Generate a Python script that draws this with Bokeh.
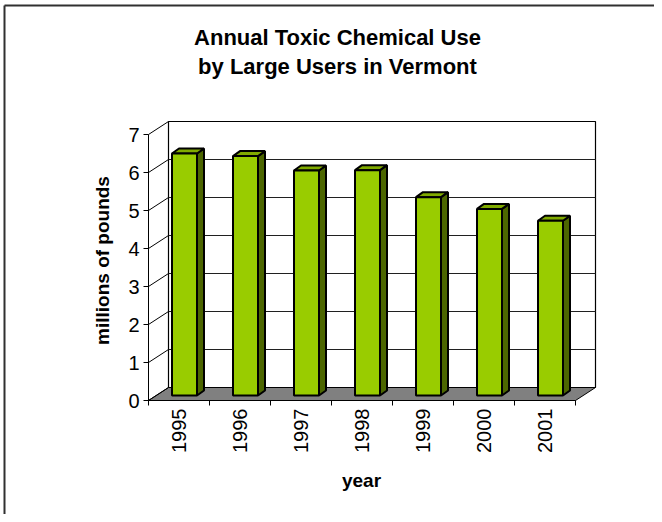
import math
from bokeh.plotting import figure
from bokeh.models import Range1d, FixedTicker
from bokeh.core.properties import value
from bokeh.embed import file_html
from bokeh.resources import INLINE

# ---- data ----
years = ["1995", "1996", "1997", "1998", "1999", "2000", "2001"]
values = [6.37, 6.30, 5.92, 5.93, 5.22, 4.91, 4.60]
y_ticks = [0, 1, 2, 3, 4, 5, 6, 7]
title_lines = ["Annual Toxic Chemical Use", "by Large Users in Vermont"]
x_title = "year"
y_title = "millions of pounds"

# ---- geometry (style) ----
W, H = 654, 514          # canvas
X0, Y0 = 148, 400        # pixel position of the plot origin
PX_X = 61.0              # pixels per category
PX_Y = 38.0              # pixels per unit
WALL_DX = 20 / PX_X
WALL_DY = 13 / PX_Y
BAR_OFF = 23.5 / PX_X
BAR_W = 25 / PX_X
BAR_BASE = 5 / PX_Y
BAR_DX = 7 / PX_X
BAR_DY = 5 / PX_Y
n = len(years)
ymax = y_ticks[-1]
FONT = "Liberation Sans"


def dx(px):
    return (px - X0) / PX_X


def dy(py):
    return (Y0 - py) / PX_Y


p = figure(width=W, height=H, output_backend="svg", toolbar_location=None,
           x_range=Range1d(dx(0), dx(W)), y_range=Range1d(dy(H), dy(0)),
           min_border=0)
p.outline_line_color = None
p.xgrid.visible = False
p.ygrid.visible = False
p.background_fill_color = "white"
p.border_fill_color = "white"

# chart-area border (top and left edges)
p.segment(x0=[dx(4), dx(4)], y0=[dy(5), dy(5)], x1=[dx(W + 10), dx(4)], y1=[dy(5), dy(H + 10)],
          line_color="#303030", line_width=2)

# title
p.text(x=[dx(337)] * 2, y=[dy(37), dy(66)], text=title_lines,
       text_align="center", text_baseline="middle", text_font=value(FONT),
       text_font_style="bold", text_font_size="22px", text_color="black")

# floor
p.patch([0, n, n + WALL_DX, WALL_DX], [0, 0, WALL_DY, WALL_DY],
        fill_color="#808080", line_color="black", line_width=1)
# back wall
p.quad(left=[WALL_DX], right=[n + WALL_DX], bottom=[WALL_DY], top=[WALL_DY + ymax],
       fill_color="white", line_color="black", line_width=1.2)
# back wall gridlines
p.segment(x0=[WALL_DX] * (len(y_ticks) - 2), y0=[WALL_DY + v for v in y_ticks[1:-1]],
          x1=[n + WALL_DX] * (len(y_ticks) - 2), y1=[WALL_DY + v for v in y_ticks[1:-1]],
          line_color="#202020", line_width=1.2)
# side wall lines
p.segment(x0=[0] * len(y_ticks), y0=y_ticks,
          x1=[WALL_DX] * len(y_ticks), y1=[WALL_DY + v for v in y_ticks],
          line_color="black", line_width=1)

# bars
lefts = [i + BAR_OFF for i in range(n)]
rights = [l + BAR_W for l in lefts]
bottoms = [BAR_BASE] * n
tops = [BAR_BASE + v for v in values]
side_xs = [[r, r + BAR_DX, r + BAR_DX, r] for r in rights]
side_ys = [[b, b + BAR_DY, t + BAR_DY, t] for b, t in zip(bottoms, tops)]
top_xs = [[l, r, r + BAR_DX, l + BAR_DX] for l, r in zip(lefts, rights)]
top_ys = [[t, t, t + BAR_DY, t + BAR_DY] for t in tops]
p.patches(side_xs, side_ys, fill_color="#4C6600", line_color="black", line_width=2)
p.patches(top_xs, top_ys, fill_color="#80AA00", line_color="black", line_width=2)
p.quad(left=lefts, right=rights, bottom=bottoms, top=tops,
       fill_color="#99CC00", line_color="black", line_width=2)

# axis titles
p.text(x=[dx(102)], y=[dy(260)], text=[y_title], angle=math.pi / 2,
       text_align="center", text_baseline="middle", text_font=value(FONT),
       text_font_style="bold", text_font_size="19px", text_color="black")
p.text(x=[dx(361)], y=[dy(480)], text=[x_title],
       text_align="center", text_baseline="middle", text_font=value(FONT),
       text_font_style="bold", text_font_size="19px", text_color="black")

# y axis (front edge)
ya = p.yaxis[0]
ya.fixed_location = 0
ya.ticker = FixedTicker(ticks=y_ticks)
ya.bounds = (0, ymax)
ya.major_tick_out = 5
ya.major_tick_in = 0
ya.minor_tick_out = 0
ya.minor_tick_in = 0
ya.axis_line_color = "black"
ya.major_tick_line_color = "black"
ya.major_label_text_font = FONT
ya.major_label_text_font_size = "20px"
ya.major_label_text_color = "black"
ya.major_label_standoff = 4

# x axis (front edge)
xa = p.xaxis[0]
xa.fixed_location = 0
centers = [i + 0.5 for i in range(n)]
xa.ticker = FixedTicker(ticks=centers, minor_ticks=list(range(n + 1)))
xa.major_label_overrides = {c: y for c, y in zip(centers, years)}
xa.bounds = (0, n)
xa.major_tick_out = 0
xa.major_tick_in = 0
xa.minor_tick_out = 5
xa.minor_tick_in = 0
xa.minor_tick_line_color = "black"
xa.axis_line_color = "black"
xa.major_label_orientation = math.pi / 2
xa.major_label_text_font = FONT
xa.major_label_text_font_size = "20px"
xa.major_label_text_color = "black"
xa.major_label_standoff = 3

open("out.html", "w").write(file_html(p, INLINE))
